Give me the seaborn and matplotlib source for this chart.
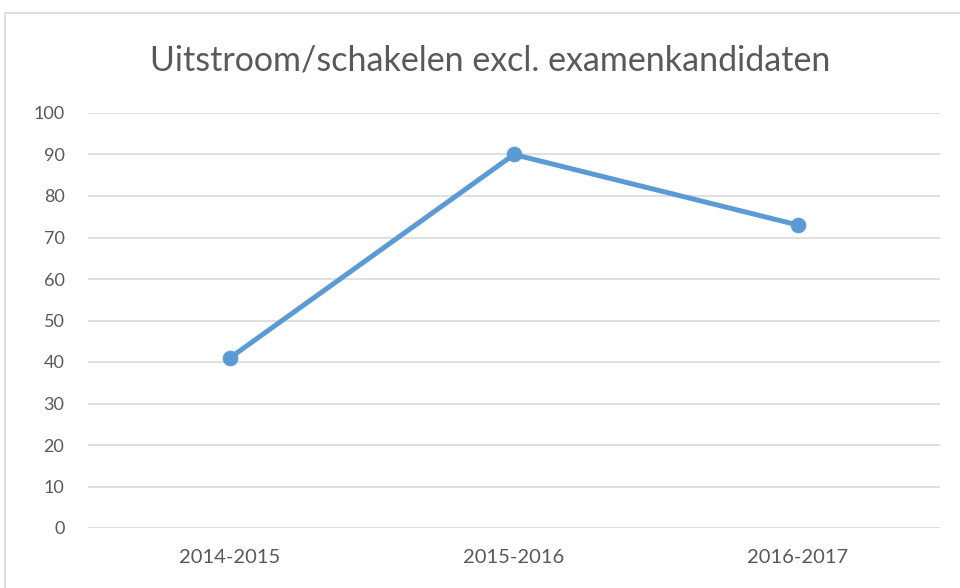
import pandas as pd
import matplotlib.pyplot as plt
import seaborn as sns
from matplotlib.patches import Rectangle

# --- data ---
jaren = ['2014-2015', '2015-2016', '2016-2017']
waarden = [41, 90, 73]

df = pd.DataFrame({'jaar': jaren, 'waarde': waarden})

sns.set_style('white')
plt.rcParams['font.family'] = ['Lato', 'DejaVu Sans']

fig = plt.figure(figsize=(9.6, 5.88), dpi=100)
ax = fig.add_axes([88 / 960, 1 - 528 / 588, 852 / 960, 415 / 588])

sns.lineplot(data=df, x='jaar', y='waarde', sort=False, ax=ax,
             color='#5B9BD5', linewidth=3.6, marker='o', markersize=10.5,
             markeredgecolor='#5B9BD5', zorder=3)

ax.set_xlim(-0.5, 2.5)
ax.set_ylim(0, 100)
ax.set_yticks(range(0, 101, 10))
ax.yaxis.grid(True, color='#D9D9D9', linewidth=1.2)
ax.xaxis.grid(False)
for s in ax.spines.values():
    s.set_visible(False)
ax.tick_params(axis='y', length=0, labelsize=13, colors='#595959', pad=17)
ax.tick_params(axis='x', length=0, labelsize=14.5, colors='#595959', pad=15)
ax.set_xlabel('')
ax.set_ylabel('')

fig.text(490 / 960, 1 - 60 / 588, 'Uitstroom/schakelen excl. examenkandidaten',
         ha='center', va='center', fontsize=24.5, color='#595959')

# chart border (screenshot is cropped on right/bottom)
fig.patches.append(Rectangle((5 / 960, -0.1), 2, 1 - 13 / 588 + 0.1,
                             transform=fig.transFigure, fill=False,
                             edgecolor='#D9D9D9', linewidth=1.2))

fig.savefig('out.png', dpi=100)
